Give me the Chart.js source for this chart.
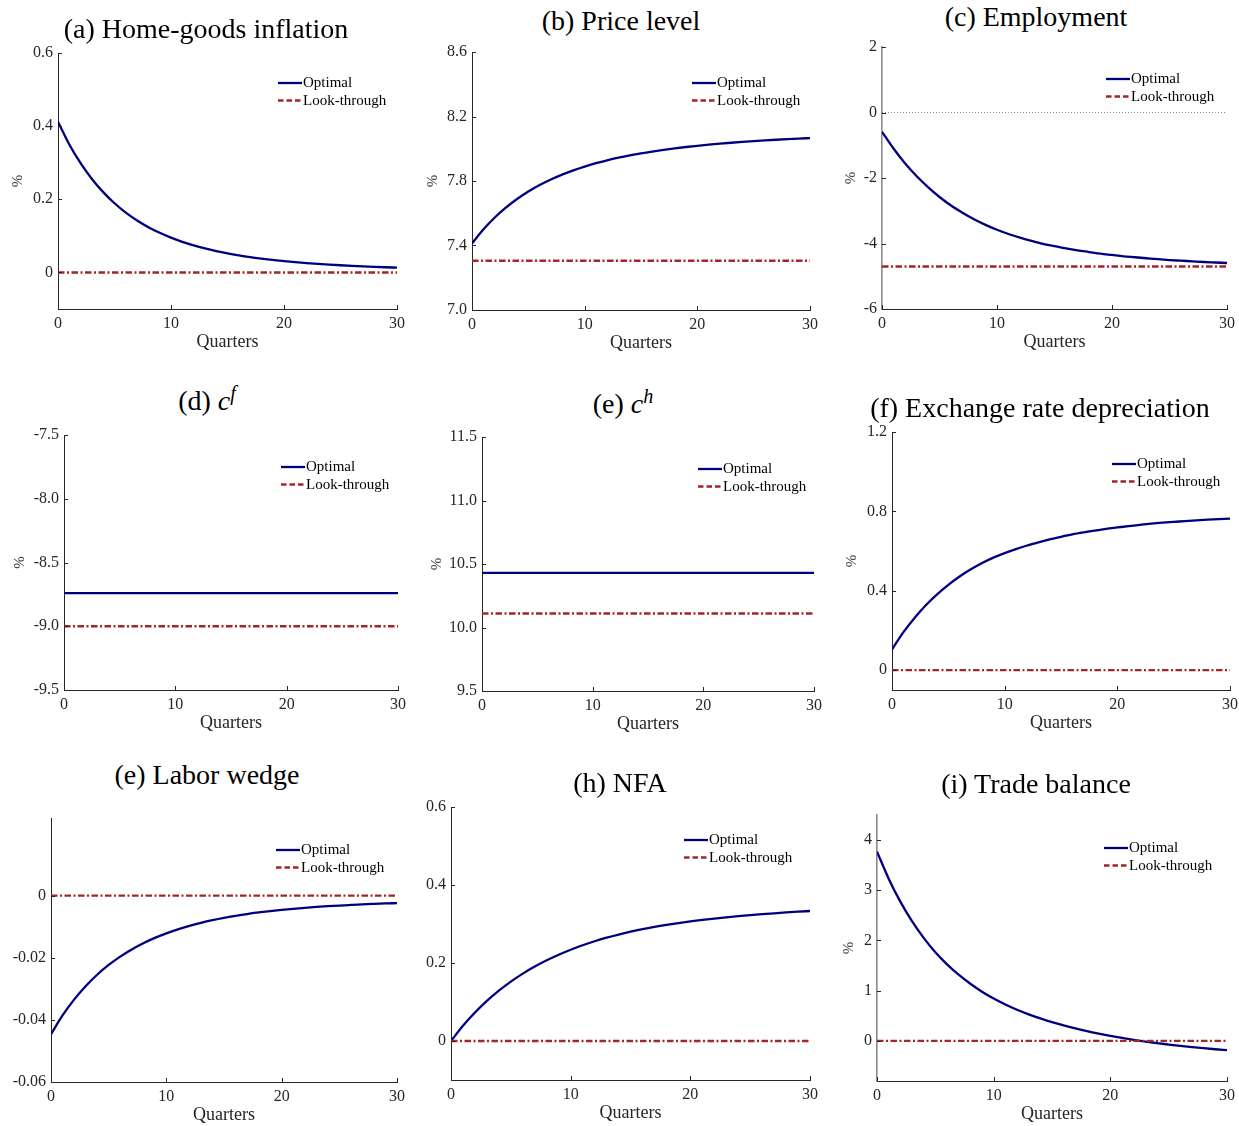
<!DOCTYPE html>
<html>
<head>
<meta charset="utf-8">
<script src="https://cdn.jsdelivr.net/npm/chart.js@4.4.1/dist/chart.umd.min.js"></script>
<style>
  body { margin: 0; background: #fff; }
  #fig { position: relative; width: 1239px; height: 1126px; overflow: hidden; background: #fff; }
  #fig canvas { position: absolute; }
  .ttl {
    position: absolute;
    transform: translate(-50%, -50%);
    white-space: nowrap;
    font-family: "Liberation Serif", serif;
    font-size: 28px;
    line-height: 1;
    color: #000;
  }
  .ttl sup { font-size: 0.72em; vertical-align: 0.5em; line-height: 0; }
</style>
</head>
<body>
<div id="fig"></div>
<script>
// donnees (trimestres 0..30)
const quarters = [0, 1, 2, 3, 4, 5, 6, 7, 8, 9, 10, 11, 12, 13, 14, 15, 16, 17, 18, 19, 20, 21, 22, 23, 24, 25, 26, 27, 28, 29, 30];
const xTicks = [0, 10, 20, 30];

const homeInflOpt = [0.412, 0.350, 0.2986, 0.2555, 0.2195, 0.1891, 0.1636, 0.1421, 0.1238, 0.1083, 0.0950, 0.0837, 0.0739, 0.0655, 0.0583, 0.0521, 0.0467, 0.0419, 0.0378, 0.0341, 0.0310, 0.0281, 0.0256, 0.0234, 0.0214, 0.0196, 0.0180, 0.0166, 0.0153, 0.0141, 0.0131];
const homeInflLook = [0, 0, 0, 0, 0, 0, 0, 0, 0, 0, 0, 0, 0, 0, 0, 0, 0, 0, 0, 0, 0, 0, 0, 0, 0, 0, 0, 0, 0, 0, 0];

const priceOpt = [7.413, 7.4988, 7.572, 7.6346, 7.6884, 7.7347, 7.7748, 7.8096, 7.8399, 7.8664, 7.8897, 7.9102, 7.9283, 7.9443, 7.9586, 7.9714, 7.9828, 7.9931, 8.0024, 8.0108, 8.0184, 8.0253, 8.0316, 8.0373, 8.0425, 8.0473, 8.0517, 8.0558, 8.0596, 8.0631, 8.0663];
const priceLook = [7.305, 7.305, 7.305, 7.305, 7.305, 7.305, 7.305, 7.305, 7.305, 7.305, 7.305, 7.305, 7.305, 7.305, 7.305, 7.305, 7.305, 7.305, 7.305, 7.305, 7.305, 7.305, 7.305, 7.305, 7.305, 7.305, 7.305, 7.305, 7.305, 7.305, 7.305];

const emplOpt = [-0.59, -1.10, -1.55, -1.94, -2.28, -2.58, -2.84, -3.06, -3.26, -3.43, -3.58, -3.71, -3.82, -3.92, -4.01, -4.08, -4.15, -4.21, -4.26, -4.31, -4.35, -4.39, -4.42, -4.45, -4.48, -4.505, -4.525, -4.545, -4.565, -4.58, -4.595];
const emplLook = [-4.70, -4.70, -4.70, -4.70, -4.70, -4.70, -4.70, -4.70, -4.70, -4.70, -4.70, -4.70, -4.70, -4.70, -4.70, -4.70, -4.70, -4.70, -4.70, -4.70, -4.70, -4.70, -4.70, -4.70, -4.70, -4.70, -4.70, -4.70, -4.70, -4.70, -4.70];
const emplZero = [0, 0, 0, 0, 0, 0, 0, 0, 0, 0, 0, 0, 0, 0, 0, 0, 0, 0, 0, 0, 0, 0, 0, 0, 0, 0, 0, 0, 0, 0, 0];

const cfOpt = [-8.74, -8.74, -8.74, -8.74, -8.74, -8.74, -8.74, -8.74, -8.74, -8.74, -8.74, -8.74, -8.74, -8.74, -8.74, -8.74, -8.74, -8.74, -8.74, -8.74, -8.74, -8.74, -8.74, -8.74, -8.74, -8.74, -8.74, -8.74, -8.74, -8.74, -8.74];
const cfLook = [-9.0, -9.0, -9.0, -9.0, -9.0, -9.0, -9.0, -9.0, -9.0, -9.0, -9.0, -9.0, -9.0, -9.0, -9.0, -9.0, -9.0, -9.0, -9.0, -9.0, -9.0, -9.0, -9.0, -9.0, -9.0, -9.0, -9.0, -9.0, -9.0, -9.0, -9.0];

const chOpt = [10.43, 10.43, 10.43, 10.43, 10.43, 10.43, 10.43, 10.43, 10.43, 10.43, 10.43, 10.43, 10.43, 10.43, 10.43, 10.43, 10.43, 10.43, 10.43, 10.43, 10.43, 10.43, 10.43, 10.43, 10.43, 10.43, 10.43, 10.43, 10.43, 10.43, 10.43];
const chLook = [10.11, 10.11, 10.11, 10.11, 10.11, 10.11, 10.11, 10.11, 10.11, 10.11, 10.11, 10.11, 10.11, 10.11, 10.11, 10.11, 10.11, 10.11, 10.11, 10.11, 10.11, 10.11, 10.11, 10.11, 10.11, 10.11, 10.11, 10.11, 10.11, 10.11, 10.11];

const fxOpt = [0.104, 0.190, 0.263, 0.327, 0.382, 0.430, 0.472, 0.508, 0.540, 0.567, 0.590, 0.610, 0.628, 0.644, 0.659, 0.672, 0.684, 0.694, 0.703, 0.712, 0.719, 0.726, 0.732, 0.738, 0.743, 0.747, 0.751, 0.755, 0.758, 0.761, 0.764];
const fxLook = [0, 0, 0, 0, 0, 0, 0, 0, 0, 0, 0, 0, 0, 0, 0, 0, 0, 0, 0, 0, 0, 0, 0, 0, 0, 0, 0, 0, 0, 0, 0];

const wedgeOpt = [-0.0446, -0.03858, -0.03348, -0.02915, -0.02547, -0.02232, -0.01963, -0.01732, -0.01533, -0.01361, -0.01213, -0.01084, -0.00972, -0.00875, -0.00790, -0.00715, -0.00650, -0.00592, -0.00542, -0.00497, -0.00458, -0.00423, -0.00392, -0.00364, -0.00340, -0.00318, -0.00299, -0.00281, -0.00266, -0.00252, -0.00240];
const wedgeLook = [0, 0, 0, 0, 0, 0, 0, 0, 0, 0, 0, 0, 0, 0, 0, 0, 0, 0, 0, 0, 0, 0, 0, 0, 0, 0, 0, 0, 0, 0, 0];

const nfaOpt = [0, 0.0390, 0.0731, 0.1030, 0.1293, 0.1524, 0.1728, 0.1909, 0.2070, 0.2213, 0.2341, 0.2455, 0.2557, 0.2648, 0.2729, 0.2802, 0.2867, 0.2925, 0.2977, 0.3024, 0.3066, 0.3104, 0.3139, 0.3171, 0.3200, 0.3227, 0.3252, 0.3275, 0.3296, 0.3315, 0.3333];
const nfaLook = [0, 0, 0, 0, 0, 0, 0, 0, 0, 0, 0, 0, 0, 0, 0, 0, 0, 0, 0, 0, 0, 0, 0, 0, 0, 0, 0, 0, 0, 0, 0];

const tbOpt = [3.77, 3.232, 2.774, 2.384, 2.052, 1.766, 1.525, 1.318, 1.137, 0.980, 0.842, 0.724, 0.620, 0.529, 0.447, 0.373, 0.307, 0.247, 0.192, 0.143, 0.098, 0.057, 0.020, -0.014, -0.046, -0.074, -0.101, -0.125, -0.147, -0.167, -0.186];
const tbLook = [0, 0, 0, 0, 0, 0, 0, 0, 0, 0, 0, 0, 0, 0, 0, 0, 0, 0, 0, 0, 0, 0, 0, 0, 0, 0, 0, 0, 0, 0, 0];

// graduations des axes y
const ticksA = [0, 0.2, 0.4, 0.6];
const labelsA = ["0", "0.2", "0.4", "0.6"];
const ticksB = [7.0, 7.4, 7.8, 8.2, 8.6];
const labelsB = ["7.0", "7.4", "7.8", "8.2", "8.6"];
const ticksC = [-6, -4, -2, 0, 2];
const labelsC = ["-6", "-4", "-2", "0", "2"];
const ticksD = [-9.5, -9.0, -8.5, -8.0, -7.5];
const labelsD = ["-9.5", "-9.0", "-8.5", "-8.0", "-7.5"];
const ticksE = [9.5, 10.0, 10.5, 11.0, 11.5];
const labelsE = ["9.5", "10.0", "10.5", "11.0", "11.5"];
const ticksF = [0, 0.4, 0.8, 1.2];
const labelsF = ["0", "0.4", "0.8", "1.2"];
const ticksG = [-0.06, -0.04, -0.02, 0];
const labelsG = ["-0.06", "-0.04", "-0.02", "0"];
const ticksH = [0, 0.2, 0.4, 0.6];
const labelsH = ["0", "0.2", "0.4", "0.6"];
const ticksI = [0, 1, 2, 3, 4];
const labelsI = ["0", "1", "2", "3", "4"];

const NAVY = "#00007f";
const RED = "#a2262a";
const INK = "#262626";
const FONT = "'Liberation Serif', serif";

Chart.defaults.font.family = FONT;

// panneaux : zone du graphe [gauche, haut, droite, bas] en pixels de la page
const panels = [
  { title: "(a) Home-goods inflation", tx: 206, ty: 29, area: [58, 53, 397, 309], pctX: 18, opt: homeInflOpt, look: homeInflLook, yMin: -0.1, yMax: 0.6, yTicks: ticksA, yLabels: labelsA, leg: [-119, 30] },
  { title: "(b) Price level", tx: 621, ty: 21, area: [472, 52, 810, 310], pctX: 433, opt: priceOpt, look: priceLook, yMin: 7.0, yMax: 8.6, yTicks: ticksB, yLabels: labelsB, leg: [-118, 31] },
  { title: "(c) Employment", tx: 1036, ty: 17, area: [882, 47, 1227, 309], pctX: 851, opt: emplOpt, look: emplLook, zero: emplZero, yMin: -6, yMax: 2, yTicks: ticksC, yLabels: labelsC, leg: [-121, 32], yAxisColor: "#8a8a8a", yAxisWidth: 1.6 },
  { title: "(d) <i>c</i><sup><i>f</i></sup>", tx: 207, ty: 401, area: [64, 435, 398, 690], pctX: 20, opt: cfOpt, look: cfLook, yMin: -9.5, yMax: -7.5, yTicks: ticksD, yLabels: labelsD, leg: [-117, 32] },
  { title: "(e) <i>c</i><sup><i>h</i></sup>", tx: 623, ty: 404, area: [482, 437, 814, 691], pctX: 437, opt: chOpt, look: chLook, yMin: 9.5, yMax: 11.5, yTicks: ticksE, yLabels: labelsE, leg: [-116, 32] },
  { title: "(f) Exchange rate depreciation", tx: 1040, ty: 408, area: [892, 432, 1230, 690], pctX: 852, opt: fxOpt, look: fxLook, yMin: -0.1, yMax: 1.2, yTicks: ticksF, yLabels: labelsF, leg: [-118, 32] },
  { title: "(e) Labor wedge", tx: 207, ty: 775, area: [51, 818, 397, 1082], pctX: null, opt: wedgeOpt, look: wedgeLook, yMin: -0.06, yMax: 0.025, yTicks: ticksG, yLabels: labelsG, leg: [-121, 32] },
  { title: "(h) NFA", tx: 620, ty: 783, area: [451, 807, 810, 1080], pctX: null, opt: nfaOpt, look: nfaLook, yMin: -0.1, yMax: 0.6, yTicks: ticksH, yLabels: labelsH, leg: [-126, 33] },
  { title: "(i) Trade balance", tx: 1036, ty: 784, area: [877, 815, 1227, 1081], pctX: 849, opt: tbOpt, look: tbLook, yMin: -0.8, yMax: 4.5, yTicks: ticksI, yLabels: labelsI, leg: [-123, 33], yAxisColor: "#8a8a8a", yAxisWidth: 1.6 },
];

// petites graduations vers l'interieur, comme matlab
const inwardTicks = {
  id: "inwardTicks",
  afterDatasetsDraw(chart) {
    const { ctx, chartArea: a, scales } = chart;
    ctx.save();
    ctx.strokeStyle = INK;
    ctx.lineWidth = 1;
    ctx.beginPath();
    scales.x.ticks.forEach((t) => {
      const x = Math.round(scales.x.getPixelForValue(t.value)) + 0.5;
      ctx.moveTo(x, a.bottom);
      ctx.lineTo(x, a.bottom - 4);
    });
    scales.y.ticks.forEach((t) => {
      const y = Math.round(scales.y.getPixelForValue(t.value)) + 0.5;
      ctx.moveTo(a.left, y);
      ctx.lineTo(a.left + 4, y);
    });
    ctx.stroke();
    ctx.restore();
  },
};

// legende dans le coin haut droit
const lineLegend = {
  id: "lineLegend",
  afterDraw(chart, args, opts) {
    const { ctx, chartArea: a } = chart;
    const x = a.right + opts.dx;
    let y = a.top + opts.dy;
    ctx.save();
    chart.data.datasets.forEach((ds) => {
      if (!ds.inLegend) return;
      ctx.beginPath();
      ctx.strokeStyle = ds.borderColor;
      ctx.lineWidth = 2.3;
      ctx.setLineDash(ds.legendDash);
      ctx.moveTo(x, y);
      ctx.lineTo(x + 24, y);
      ctx.stroke();
      ctx.setLineDash([]);
      ctx.fillStyle = "#000";
      ctx.font = "15px " + FONT;
      ctx.textBaseline = "middle";
      ctx.textAlign = "left";
      ctx.fillText(ds.label, x + 25, y + 0.5);
      y += 17.5;
    });
    ctx.restore();
  },
};

const fig = document.getElementById("fig");
const padTop = 15;
const padRight = 20;
const xH = 44;

panels.forEach((p) => {
  const [L, T, R, B] = p.area;
  const cLeft = p.pctX !== null ? Math.round(p.pctX - 9) : L - 50;
  const yW = L - cLeft;

  const canvas = document.createElement("canvas");
  const w = yW + (R - L) + padRight;
  const h = padTop + (B - T) + xH;
  canvas.width = w;
  canvas.height = h;
  canvas.style.width = w + "px";
  canvas.style.height = h + "px";
  canvas.style.left = cLeft + "px";
  canvas.style.top = T - padTop + "px";
  fig.appendChild(canvas);

  const ttl = document.createElement("div");
  ttl.className = "ttl";
  ttl.innerHTML = p.title;
  ttl.style.left = p.tx + "px";
  ttl.style.top = p.ty + "px";
  fig.appendChild(ttl);

  const pts = (vals) => quarters.map((q, i) => ({ x: q, y: vals[i] }));

  const datasets = [
    { label: "Optimal", data: pts(p.opt), borderColor: NAVY, borderWidth: 2.3, pointRadius: 0, cubicInterpolationMode: "monotone", order: 1, inLegend: true, legendDash: [] },
    { label: "Look-through", data: pts(p.look), borderColor: RED, borderWidth: 2.4, borderDash: [6.5, 2.5, 2, 2.5], pointRadius: 0, order: 0, inLegend: true, legendDash: [5.5, 3] },
  ];
  if (p.zero) {
    datasets.push({ label: "", data: pts(p.zero), borderColor: "#666", borderWidth: 0.8, borderDash: [1, 2], pointRadius: 0, order: 2, inLegend: false });
  }

  new Chart(canvas, {
    type: "line",
    data: { datasets },
    options: {
      responsive: false,
      animation: false,
      events: [],
      layout: { padding: { top: padTop, right: padRight, left: 0, bottom: 0 } },
      plugins: {
        legend: { display: false },
        tooltip: { enabled: false },
        lineLegend: { dx: p.leg[0], dy: p.leg[1] },
      },
      scales: {
        x: {
          type: "linear",
          min: 0,
          max: 30,
          grid: { display: false, drawTicks: false },
          border: { display: true, color: INK, width: 1 },
          afterBuildTicks: (s) => {
            s.ticks = xTicks.map((v) => ({ value: v }));
          },
          afterFit: (s) => {
            s.height = xH;
          },
          ticks: { color: INK, font: { size: 16 }, padding: 5, maxRotation: 0, autoSkip: false, callback: (v) => String(v) },
          title: { display: true, text: "Quarters", color: INK, font: { size: 18 }, padding: 0 },
        },
        y: {
          type: "linear",
          min: p.yMin,
          max: p.yMax,
          grid: { display: false, drawTicks: false },
          border: { display: true, color: p.yAxisColor || INK, width: p.yAxisWidth || 1 },
          afterBuildTicks: (s) => {
            s.ticks = p.yTicks.map((v) => ({ value: v }));
          },
          afterFit: (s) => {
            s.width = yW;
          },
          ticks: { color: INK, font: { size: 16 }, padding: 5, autoSkip: false, callback: (v, i) => p.yLabels[i] },
          title: { display: p.pctX !== null, text: "%", color: "#444", font: { size: 15 }, padding: 0 },
        },
      },
    },
    plugins: [inwardTicks, lineLegend],
  });
});
</script>
</body>
</html>
